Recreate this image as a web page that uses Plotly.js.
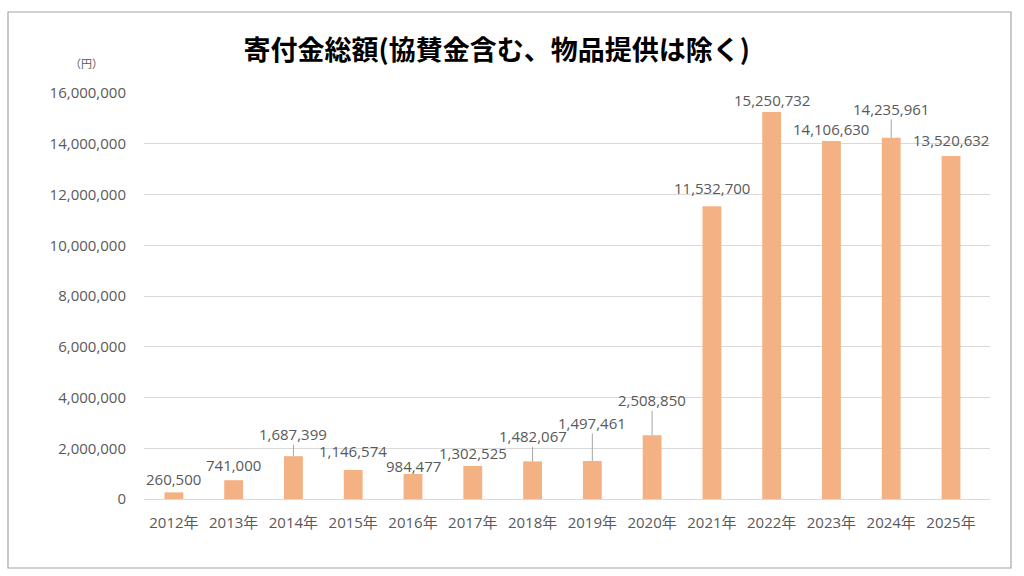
<!DOCTYPE html>
<html>
<head>
<meta charset="utf-8">
<script src="https://cdn.plot.ly/plotly-3.0.1.min.js"></script>
<style>
html,body{margin:0;padding:0;background:#fff;}
#chart{width:1024px;height:576px;}
</style>
</head>
<body>
<div id="chart"></div>
<script>
// ---- data ----
const years = ["2012年","2013年","2014年","2015年","2016年","2017年","2018年","2019年","2020年","2021年","2022年","2023年","2024年","2025年"];
const donations = [260500, 741000, 1687399, 1146574, 984477, 1302525, 1482067, 1497461, 2508850, 11532700, 15250732, 14106630, 14235961, 13520632];
const yTickValues = [0, 2000000, 4000000, 6000000, 8000000, 10000000, 12000000, 14000000, 16000000];
const chartTitle = "寄付金総額(協賛金含む、物品提供は除く)";
const unitLabel = "（円）";

// ---- label placement (pixel offsets above each bar top; leader line flag) ----
const labelRise = [-13, -15, -22, -19, -8, -13, -25, -38, -35, -18, -12, -12, -29, -16];
const labelLeader = [false, false, true, false, false, false, true, true, true, false, false, false, true, false];

const textColor = "#595959";
const fontFam = "'Open Sans', 'Noto Sans CJK JP', sans-serif";

const fmt = v => v.toLocaleString("en-US");

const annotations = donations.map((v, i) => ({
  x: years[i], y: v, xref: "x", yref: "y",
  text: fmt(v),
  showarrow: true,
  ax: 0, ay: labelRise[i],
  arrowhead: 0, arrowwidth: 1, standoff: 0, startstandoff: 0,
  arrowcolor: labelLeader[i] ? "#a6a6a6" : "rgba(0,0,0,0)",
  font: {family: fontFam, size: 15, color: textColor},
  borderpad: 0
}));

annotations.push({
  xref: "paper", yref: "paper", x: (86 - 144) / 846, y: (499 - 63) / 406,
  text: unitLabel, showarrow: false, xanchor: "center", yanchor: "middle",
  font: {family: "'Noto Sans CJK JP', sans-serif", size: 11, color: textColor}
});

const trace = {
  type: "bar",
  x: years,
  y: donations,
  width: 0.315,
  marker: {color: "#F4B183", line: {width: 0}},
  hoverinfo: "x+y"
};

const layout = {
  width: 1024, height: 576,
  margin: {l: 144, r: 34, t: 93, b: 77},
  paper_bgcolor: "#ffffff", plot_bgcolor: "#ffffff",
  showlegend: false,
  title: {
    text: "<b>" + chartTitle + "</b>",
    x: 0.485, xanchor: "center", y: 1 - 51 / 576, yanchor: "middle",
    font: {family: "'Noto Sans CJK JP', sans-serif", size: 27, color: "#000000"}
  },
  xaxis: {
    type: "category",
    showgrid: false, zeroline: false, showline: false,
    ticks: "outside", ticklen: 10, tickcolor: "rgba(0,0,0,0)",
    tickfont: {family: fontFam, size: 15, color: textColor}
  },
  yaxis: {
    range: [0, 16000000],
    tickvals: yTickValues,
    ticktext: yTickValues.map(fmt),
    showgrid: true, gridcolor: "#d9d9d9", gridwidth: 1,
    zeroline: true, zerolinecolor: "#d9d9d9", zerolinewidth: 1,
    showline: false,
    ticks: "outside", ticklen: 14, tickcolor: "rgba(0,0,0,0)",
    tickfont: {family: fontFam, size: 15, color: textColor}
  },
  annotations: annotations,
  shapes: [{
    type: "rect", xref: "paper", yref: "paper",
    x0: (8 - 144) / 846, x1: (1011 - 144) / 846,
    y0: (499 - 568) / 406, y1: (499 - 12) / 406,
    line: {color: "#a6a6a6", width: 1.2}, fillcolor: "rgba(0,0,0,0)", layer: "below"
  }]
};

Plotly.newPlot("chart", [trace], layout, {displayModeBar: false, staticPlot: true});
</script>
</body>
</html>
